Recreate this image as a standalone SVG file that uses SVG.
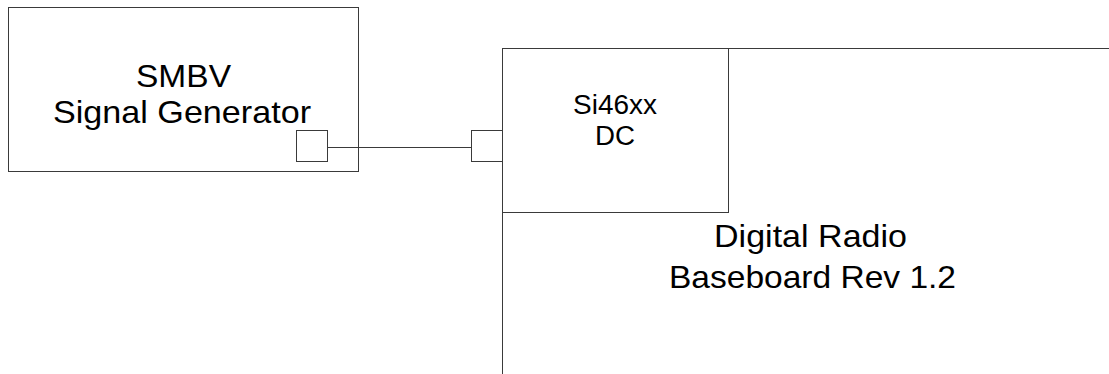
<svg xmlns="http://www.w3.org/2000/svg" width="1109" height="374" viewBox="0 0 1109 374">
  <style>
    .box { fill: #ffffff; stroke: #3a3a3a; stroke-width: 1; }
    .wire { fill: none; stroke: #3a3a3a; stroke-width: 1; }
    .lbl { font-family: "Liberation Sans", Arial, sans-serif; fill: #000000; }
    .big { font-size: 32px; }
    .mid { font-size: 27px; }
  </style>
  <rect x="0" y="0" width="1109" height="374" fill="#ffffff"/>
  <g id="baseboard">
    <rect class="box" x="502.5" y="48.5" width="700" height="400"/>
    <text class="lbl big" x="714" y="247" textLength="193" lengthAdjust="spacingAndGlyphs">Digital Radio</text>
    <text class="lbl big" x="669" y="288" textLength="287" lengthAdjust="spacingAndGlyphs">Baseboard Rev 1.2</text>
  </g>
  <g id="si46xx">
    <rect class="box" x="502.5" y="48.5" width="226" height="164"/>
    <text class="lbl mid" x="573" y="114" textLength="84" lengthAdjust="spacingAndGlyphs">Si46xx</text>
    <text class="lbl mid" x="595" y="145" textLength="40" lengthAdjust="spacingAndGlyphs">DC</text>
  </g>
  <g id="smbv">
    <rect class="box" x="8.5" y="7.5" width="350" height="164"/>
    <text class="lbl big" x="136" y="87" textLength="95" lengthAdjust="spacingAndGlyphs">SMBV</text>
    <text class="lbl big" x="53" y="123" textLength="258" lengthAdjust="spacingAndGlyphs">Signal Generator</text>
  </g>
  <g id="port-out">
    <rect class="box" x="296.5" y="130.5" width="31" height="31"/>
  </g>
  <g id="port-in">
    <rect class="box" x="471.5" y="130.5" width="31" height="31"/>
  </g>
  <g id="connectors">
    <line class="wire" x1="327.5" y1="147.5" x2="471.5" y2="147.5"/>
  </g>
</svg>
